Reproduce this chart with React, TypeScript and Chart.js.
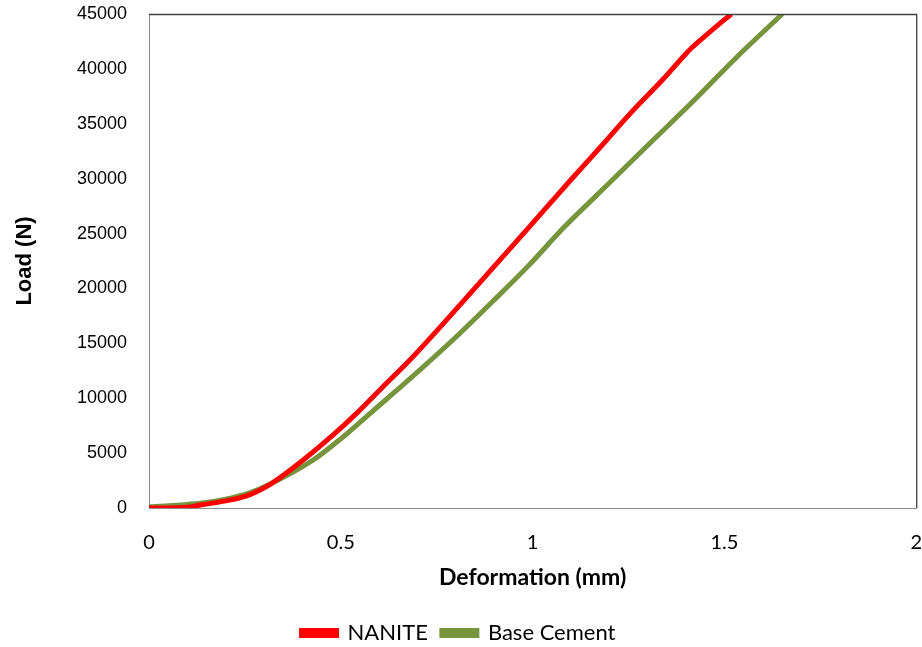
import React, { useEffect, useRef } from "react";
import { Chart, registerables } from "chart.js";

Chart.register(...registerables);

const nanX = [0, 0.05, 0.1, 0.13, 0.2, 0.26, 0.32, 0.402, 0.48, 0.541, 0.61, 0.68, 0.78, 0.845, 0.92, 0.984, 1.1, 1.18, 1.253, 1.34, 1.395, 1.417, 1.46, 1.518];
const nanY = [0, 0, 60, 250, 650, 1180, 2250, 4370, 6650, 8620, 11050, 13480, 17300, 19850, 22800, 25320, 29900, 33000, 35880, 39050, 41200, 41990, 43300, 45000];

const baseX = [0, 0.05, 0.1, 0.15, 0.2, 0.26, 0.32, 0.428, 0.5, 0.567, 0.64, 0.71, 0.81, 0.897, 0.99, 1.08, 1.2, 1.305, 1.417, 1.53, 1.651];
const baseY = [120, 200, 330, 500, 800, 1350, 2250, 4370, 6300, 8320, 10550, 12700, 15900, 18850, 22100, 25500, 29600, 33200, 37000, 41000, 45000];

const xTicks = [0, 0.5, 1, 1.5, 2];
const yMax = 45000;
const yStep = 5000;

const seriesNames = ["NANITE", "Base Cement"];
const seriesColors = ["#FF0000", "#77933C"];

const frame = {
  id: "frame",
  afterDraw(chart: any) {
    const { ctx, chartArea } = chart;
    ctx.save();
    ctx.strokeStyle = "#404040";
    ctx.lineWidth = 1.3;
    ctx.beginPath();
    ctx.moveTo(chartArea.left, chartArea.top + 0.5);
    ctx.lineTo(chartArea.right + 0.5, chartArea.top + 0.5);
    ctx.lineTo(chartArea.right + 0.5, chartArea.bottom);
    ctx.stroke();
    ctx.restore();
  },
};

export default function App() {
  const ref = useRef<HTMLCanvasElement>(null);
  useEffect(() => {
    if (!ref.current) return;
    const toPts = (xs: number[], ys: number[]) => xs.map((x, i) => ({ x, y: ys[i] }));
    const chart = new Chart(ref.current, {
      type: "scatter",
      data: {
        datasets: [
          {
            label: seriesNames[0],
            data: toPts(nanX, nanY),
            showLine: true,
            borderColor: seriesColors[0],
            backgroundColor: seriesColors[0],
            borderWidth: 5,
            pointRadius: 0,
            cubicInterpolationMode: "monotone",
          },
          {
            label: seriesNames[1],
            data: toPts(baseX, baseY),
            showLine: true,
            borderColor: seriesColors[1],
            backgroundColor: seriesColors[1],
            borderWidth: 5,
            pointRadius: 0,
            cubicInterpolationMode: "monotone",
          },
        ],
      },
      options: {
        animation: false,
        responsive: false,
        maintainAspectRatio: false,
        layout: { padding: { top: 14, right: 5, left: 0, bottom: -7 } },
        plugins: {
          tooltip: { enabled: false },
          legend: {
            position: "bottom",
            labels: {
              boxWidth: 35,
              boxHeight: 5,
              padding: 14,
              color: "#000",
              font: { family: "Lato", size: 22 },
            },
          },
        },
        scales: {
          x: {
            type: "linear",
            min: 0,
            max: 2,
            afterBuildTicks: (s: any) => {
              s.ticks = xTicks.map((v) => ({ value: v }));
            },
            grid: { display: true, drawOnChartArea: false, drawTicks: true, tickLength: 23, tickColor: "rgba(0,0,0,0)" },
            border: { display: true, color: "#8c8c8c", width: 1 },
            ticks: {
              padding: 0,
              color: "#000",
              font: { family: "Lato", size: 20 },
              maxRotation: 0,
              callback: (v: any) => String(v),
            },
            title: {
              display: true,
              text: "Deformation (mm)",
              color: "#000",
              font: { family: "Lato", size: 23, weight: "bold" },
              padding: { top: 0, bottom: 17 },
            },
            afterFit: (s: any) => {
              s.height = 100;
            },
          },
          y: {
            type: "linear",
            min: 0,
            max: yMax,
            ticks: {
              stepSize: yStep,
              padding: 2,
              color: "#000",
              font: { family: "Liberation Sans", size: 18 },
              callback: (v: any) => String(v),
            },
            grid: { display: true, drawOnChartArea: false, drawTicks: true, tickLength: 20, tickColor: "rgba(0,0,0,0)" },
            border: { display: true, color: "#8c8c8c", width: 1 },
            title: {
              display: true,
              text: "Load (N)",
              color: "#000",
              font: { family: "Liberation Sans", size: 22, weight: "bold" },
              padding: 12,
            },
            afterFit: (s: any) => {
              s.width = 149;
            },
          },
        },
      },
      plugins: [frame],
    });
    return () => chart.destroy();
  }, []);
  return (
    <div style={{ position: "fixed", left: 0, top: 0, width: 922, height: 647, background: "#fff" }}>
      <canvas ref={ref} width={922} height={647} style={{ width: 922, height: 647 }} />
    </div>
  );
}
